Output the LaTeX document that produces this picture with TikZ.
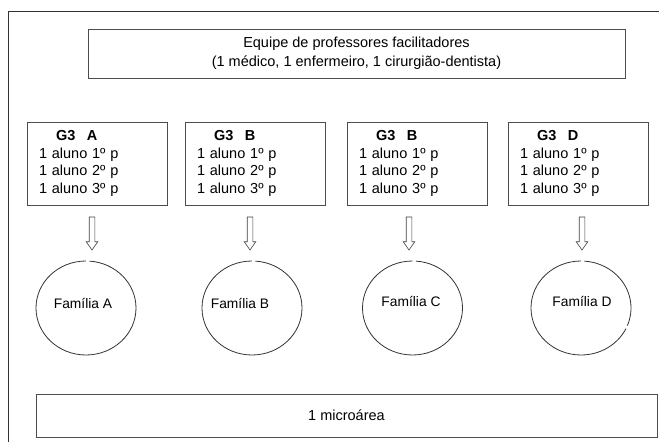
\documentclass[tikz,border=0pt]{standalone}
\usepackage{fontspec}
\setmainfont{Liberation Sans}
\usetikzlibrary{shapes.arrows,shapes.geometric}
\begin{document}
\begin{tikzpicture}[x=1pt,y=1pt,
  box/.style={draw=black!70, line width=0.8pt, rectangle, inner sep=0pt},
  grp/.style={box, minimum width=140pt, minimum height=83pt, text width=116pt, align=left, font=\fontsize{14.5}{17.5}\selectfont},
  fam/.style={ellipse, minimum width=100pt, minimum height=94pt, inner sep=0pt},
  famtxt/.style={font=\fontsize{13.8}{16}\selectfont, inner sep=0pt},
  ring/.style={draw=black!80, line width=0.8pt},
  seta/.style={single arrow, draw=black!75, line width=0.6pt, rotate=-90, minimum height=33pt, inner sep=2.5pt, single arrow head extend=3pt, single arrow tip angle=70, single arrow head indent=0pt}]
\useasboundingbox (0,0) rectangle (659,442);
\draw[black!80, line width=0.8pt] (8,0) -- (8,431) -- (659,431);

\node[box, minimum width=537pt, minimum height=49pt, align=center, font=\fontsize{14.5}{19}\selectfont] (eq) at (356.5,388.5) {Equipe de professores facilitadores\\(1 médico, 1 enfermeiro, 1 cirurgião-dentista)};

\node[grp] (gA) at (97,278.5) {\hspace*{17pt}\textbf{G3\hspace{11.5pt}A}\\1 aluno 1º p\\1 aluno 2º p\\1 aluno 3º p};
\node[grp] (gB) at (255,278.5) {\hspace*{17pt}\textbf{G3\hspace{11.5pt}B}\\1 aluno 1º p\\1 aluno 2º p\\1 aluno 3º p};
\node[grp] (gC) at (417,278.5) {\hspace*{17pt}\textbf{G3\hspace{11.5pt}B}\\1 aluno 1º p\\1 aluno 2º p\\1 aluno 3º p};
\node[grp] (gD) at (578,278.5) {\hspace*{17pt}\textbf{G3\hspace{11.5pt}D}\\1 aluno 1º p\\1 aluno 2º p\\1 aluno 3º p};

\node[seta] (arA) at (92,210.5) {};
\node[seta] (arB) at (250,210.5) {};
\node[seta] (arC) at (409,210.5) {};
\node[seta] (arD) at (582,210.5) {};

\node[fam] (fA) at (86,134) {};
\node[fam] (fB) at (252,134) {};
\node[fam] (fC) at (412.5,134) {};
\node[fam] (fD) at (581,134) {};

\draw[ring] (fA.center) ++(90:50pt and 47pt) arc[start angle=90, end angle=446, x radius=50pt, y radius=47pt];
\draw[ring] (fB.center) ++(90:50pt and 47pt) arc[start angle=90, end angle=446, x radius=50pt, y radius=47pt];
\draw[ring] (fC.center) ++(90:50pt and 47pt) arc[start angle=90, end angle=446, x radius=50pt, y radius=47pt];
\draw[ring] (fD.center) ++(90:50pt and 47pt) arc[start angle=90, end angle=334, x radius=50pt, y radius=47pt];
\draw[ring] (fD.center) ++(338:50pt and 47pt) arc[start angle=338, end angle=446, x radius=50pt, y radius=47pt];

\node[famtxt] (tA) at (83,139) {Família A};
\node[famtxt] (tB) at (240,139) {Família B};
\node[famtxt] (tC) at (411,141) {Família C};
\node[famtxt] (tD) at (582,141) {Família D};

\node[box, minimum width=621pt, minimum height=43pt, font=\fontsize{14.5}{17}\selectfont] (mic) at (346.5,26.5) {1 microárea};
\end{tikzpicture}
\end{document}
